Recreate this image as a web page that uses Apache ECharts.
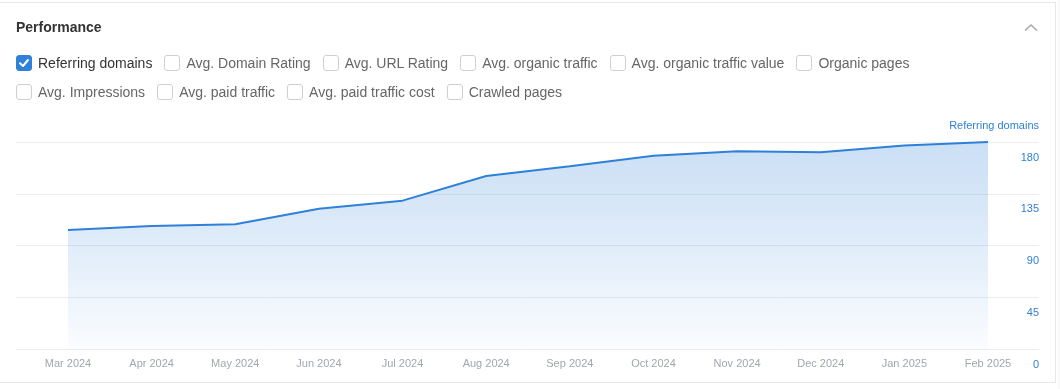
<!DOCTYPE html>
<html>
<head>
<meta charset="utf-8">
<script src="https://cdn.jsdelivr.net/npm/echarts@6/dist/echarts.min.js"></script>
<style>
  html, body { margin:0; padding:0; width:1060px; height:389px; background:#fff; overflow:hidden; font-family: "Liberation Sans", Arial, sans-serif; }
  #card { position:absolute; left:-1px; top:2px; width:1057px; height:381px; border-top:1px solid #e8e8e8; border-right:1px solid #e6e6e6; border-bottom:1px solid #e6e6e6; box-sizing:border-box; }
  #side { position:absolute; left:1057px; top:0; width:3px; height:389px; background:#fbfbfb; }
  #title { position:absolute; left:16px; top:18px; font-size:14px; font-weight:bold; color:#333; line-height:18px; }
  #chev { position:absolute; left:1020px; top:18px; }
  #yname { position:absolute; right:21px; top:118px; font-size:11px; line-height:14px; color:#2f7fd6; }
  .row { position:absolute; left:16px; display:flex; align-items:center; height:18px; }
  .item { display:flex; align-items:center; margin-right:12px; font-size:14px; color:#666; white-space:nowrap; }
  .item.on { color:#333; }
  .box { width:16px; height:16px; box-sizing:border-box; border:1px solid #cfcfcf; border-radius:3px; margin-right:6px; background:#fff; position:relative; }
  .item.on .box { background:#2f80d9; border-color:#2f80d9; }
  #chart { position:absolute; left:0; top:0; width:1060px; height:389px; }
</style>
</head>
<body>
<div id="chart"></div>
<div id="card"></div>
<div id="side"></div>
<div id="title">Performance</div>
<div id="yname"></div>
<svg id="chev" width="24" height="16"><polyline points="5,12.5 11,7 17,12.5" fill="none" stroke="#a8a8a8" stroke-width="1.6"/></svg>
<div class="row" id="row1" style="top:54px"></div>
<div class="row" id="row2" style="top:83px"></div>
<script>
const categories = ["Mar 2024","Apr 2024","May 2024","Jun 2024","Jul 2024","Aug 2024","Sep 2024","Oct 2024","Nov 2024","Dec 2024","Jan 2025","Feb 2025"];
const referringDomains = [103.5, 107, 108.5, 122, 129, 150.5, 159, 168, 172, 171, 177, 180];
const yTicks = [0, 45, 90, 135, 180];
const seriesName = "Referring domains";
const legendRow1 = ["Referring domains","Avg. Domain Rating","Avg. URL Rating","Avg. organic traffic","Avg. organic traffic value","Organic pages"];
const legendRow2 = ["Avg. Impressions","Avg. paid traffic","Avg. paid traffic cost","Crawled pages"];
const checked = ["Referring domains"];

document.getElementById('yname').textContent = seriesName;

function fillRow(id, names) {
  const row = document.getElementById(id);
  names.forEach(n => {
    const it = document.createElement('div');
    it.className = 'item' + (checked.includes(n) ? ' on' : '');
    const box = document.createElement('div');
    box.className = 'box';
    if (checked.includes(n)) {
      box.innerHTML = '<svg width="16" height="16" style="position:absolute;left:-1px;top:-1px"><polyline points="4,8.2 7,11 12,5" fill="none" stroke="#fff" stroke-width="2" stroke-linecap="round" stroke-linejoin="round"/></svg>';
    }
    const t = document.createElement('span');
    t.textContent = n;
    it.appendChild(box); it.appendChild(t);
    row.appendChild(it);
  });
}
fillRow('row1', legendRow1);
fillRow('row2', legendRow2);

const chart = echarts.init(document.getElementById('chart'), null, {renderer:'canvas'});
const yMax = yTicks[yTicks.length-1];
const yInt = yTicks[1] - yTicks[0];
chart.setOption({
  animation: false,
  grid: [
    { left: 16, right: 21, top: 142, height: 207, containLabel: false, outerBoundsMode: 'none' },
    { left: 68, right: 72, top: 142, height: 207, containLabel: false, outerBoundsMode: 'none' }
  ],
  xAxis: [
    { gridIndex: 0, type: 'value', min: 0, max: 1, show: false },
    { gridIndex: 1, type: 'category', data: categories, boundaryGap: false,
      axisLine: { show: false }, axisTick: { show: false }, splitLine: { show: false },
      axisLabel: { color: '#a2a7ae', fontSize: 11, margin: 9, interval: 0, fontFamily: 'Liberation Sans, Arial, sans-serif' } }
  ],
  yAxis: [
    { gridIndex: 0, type: 'value', position: 'right', min: 0, max: yMax, interval: yInt,
      axisLine: { show: false }, axisTick: { show: false },
      splitLine: { lineStyle: { color: '#ebedf0', width: 1 } },
      axisLabel: { inside: true, margin: 0, color: '#2f7fd6', fontSize: 11, verticalAlign: 'top', padding: [10, 0, 0, 0], fontFamily: 'Liberation Sans, Arial, sans-serif' } },
    { gridIndex: 1, type: 'value', min: 0, max: yMax, interval: yInt, show: false, splitLine: { show: false } }
  ],
  series: [{
    type: 'line',
    name: seriesName,
    xAxisIndex: 1, yAxisIndex: 1,
    data: referringDomains,
    showSymbol: false,
    lineStyle: { color: '#2f80d9', width: 2 },
    itemStyle: { color: '#2f80d9' },
    areaStyle: {
      color: { type: 'linear', x: 0, y: 0, x2: 0, y2: 1, colorStops: [
        { offset: 0, color: 'rgba(47,128,217,0.36)' },
        { offset: 0.5, color: 'rgba(47,128,217,0.21)' },
        { offset: 1, color: 'rgba(47,128,217,0.03)' }
      ] }
    }
  }]
});
</script>
</body>
</html>
